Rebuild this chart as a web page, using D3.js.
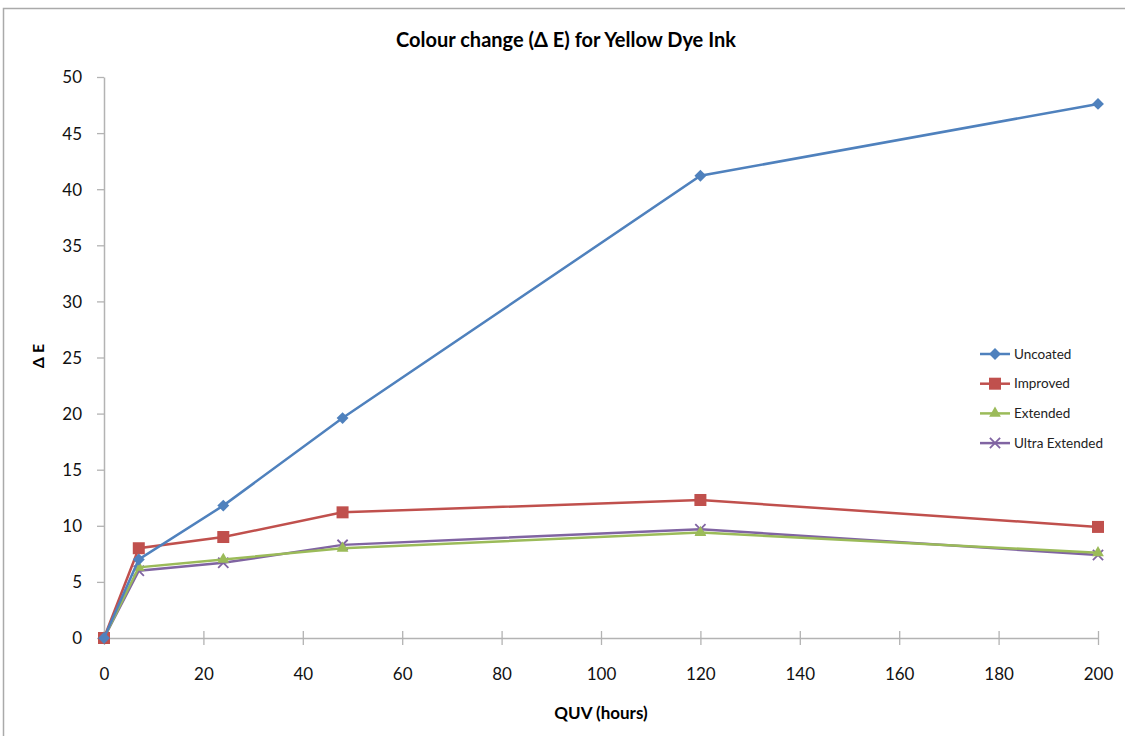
<!DOCTYPE html>
<html>
<head>
<meta charset="utf-8">
<script src="https://cdn.jsdelivr.net/npm/d3@7"></script>
<style>
  body { margin: 0; background: #fff; }
  svg { font-family: Lato, "Open Sans", sans-serif; }
</style>
</head>
<body>
<svg width="1125" height="736"></svg>
<script>
// ===== DATA =====
const hours = [0, 7, 24, 48, 120, 200];
const uncoated = [0, 7.0, 11.8, 19.6, 41.2, 47.6];
const improved = [0, 8.0, 9.0, 11.2, 12.3, 9.9];
const extended = [0, 6.3, 7.0, 8.0, 9.4, 7.6];
const ultraExtended = [0, 6.0, 6.7, 8.3, 9.7, 7.4];
const xTicks = [0, 20, 40, 60, 80, 100, 120, 140, 160, 180, 200];
const yTicks = [0, 5, 10, 15, 20, 25, 30, 35, 40, 45, 50];

const series = [
  {name: "Uncoated", values: uncoated, color: "#4F81BD", marker: "diamond"},
  {name: "Improved", values: improved, color: "#C0504D", marker: "square"},
  {name: "Extended", values: extended, color: "#9BBB59", marker: "triangle"},
  {name: "Ultra Extended", values: ultraExtended, color: "#8064A2", marker: "x"}
];

const svg = d3.select("svg");

// frame
svg.append("rect")
  .attr("x", 3.5).attr("y", 8.5)
  .attr("width", 1125).attr("height", 740)
  .attr("fill", "#fff").attr("stroke", "#aaa").attr("stroke-width", 1.5);

const xs = d3.scaleLinear().domain([0, 200]).range([104, 1098]);
const ys = d3.scaleLinear().domain([0, 50]).range([638, 77]);

// ===== AXES =====
const xAxis = svg.append("g")
  .attr("transform", "translate(0," + ys(0) + ")")
  .call(d3.axisBottom(xs).tickValues(xTicks).tickSize(7).tickSizeOuter(0));
xAxis.selectAll(".tick line").attr("y1", -7);
xAxis.selectAll("text").attr("dy", 0).attr("y", 42);

const yAxis = svg.append("g")
  .attr("transform", "translate(" + xs(0) + ",0)")
  .call(d3.axisLeft(ys).tickValues(yTicks).tickSize(7).tickSizeOuter(0));
yAxis.selectAll("text").attr("x", -22).attr("dy", "0.35em");

svg.selectAll(".domain").attr("stroke", "#b3b3b3").attr("stroke-width", 1.5);
svg.selectAll(".tick line").attr("stroke", "#b3b3b3").attr("stroke-width", 1.3);
svg.selectAll(".tick text").attr("font-size", 17).attr("fill", "#111")
  .attr("font-family", "Lato, sans-serif");

// ===== LINES =====
const line = d3.line()
  .x((d, i) => xs(hours[i]))
  .y(d => ys(d));

function drawMarker(g, type, color, x, y) {
  if (type === "diamond") {
    g.append("path").attr("d", d3.symbol(d3.symbolDiamond2, 90)())
      .attr("transform", "translate(" + x + "," + y + ")")
      .attr("fill", color);
  } else if (type === "square") {
    g.append("rect").attr("x", x - 6).attr("y", y - 6).attr("width", 12).attr("height", 12)
      .attr("fill", color);
  } else if (type === "triangle") {
    g.append("path").attr("d", d3.symbol(d3.symbolTriangle, 60)())
      .attr("transform", "translate(" + x + "," + y + ")")
      .attr("fill", color);
  } else {
    g.append("path").attr("d", d3.symbol(d3.symbolX, 70)())
      .attr("transform", "translate(" + x + "," + y + ")")
      .attr("fill", "none").attr("stroke", color).attr("stroke-width", 1.8);
  }
}

// draw in reverse so Uncoated ends on top
series.slice().reverse().forEach(s => {
  const g = svg.append("g");
  g.append("path")
    .datum(s.values)
    .attr("fill", "none")
    .attr("stroke", s.color)
    .attr("stroke-width", 2.5)
    .attr("d", line);
  s.values.forEach((v, i) => drawMarker(g, s.marker, s.color, xs(hours[i]), ys(v)));
});

// ===== LEGEND =====
const legend = svg.selectAll(".legend")
  .data(series)
  .enter().append("g")
  .attr("class", "legend")
  .attr("transform", (d, i) => "translate(980," + (354 + 29.7 * i) + ")");
legend.append("line")
  .attr("x1", 0).attr("x2", 30)
  .attr("stroke", d => d.color).attr("stroke-width", 2.5);
legend.each(function(d) { drawMarker(d3.select(this), d.marker, d.color, 15, 0); });
legend.append("text")
  .attr("x", 34).attr("dy", "0.35em")
  .attr("font-size", 13.5).attr("fill", "#222")
  .text(d => d.name);

// ===== TITLES =====
svg.append("text")
  .attr("x", 566).attr("y", 47)
  .attr("text-anchor", "middle")
  .attr("font-size", 20).attr("font-weight", "bold")
  .text("Colour change (Δ E) for Yellow Dye Ink");

svg.append("text")
  .attr("x", 601).attr("y", 719)
  .attr("text-anchor", "middle")
  .attr("font-size", 17).attr("font-weight", "bold")
  .text("QUV (hours)");

svg.append("text")
  .attr("transform", "translate(44,356) rotate(-90)")
  .attr("text-anchor", "middle")
  .attr("font-size", 16).attr("font-weight", "bold")
  .text("Δ E");
</script>
</body>
</html>
